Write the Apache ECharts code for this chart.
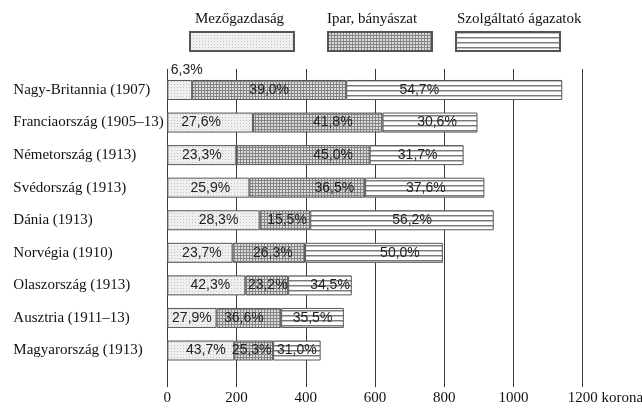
<!DOCTYPE html>
<html>
<head>
<meta charset="utf-8">
<script src="https://cdn.jsdelivr.net/npm/echarts@6/dist/echarts.min.js"></script>
<style>
html,body{margin:0;padding:0;background:#fff;}
#c{width:642px;height:408px;}
</style>
</head>
<body>
<div id="c"></div>
<script>
const categories = ['Nagy-Britannia (1907)', 'Franciaország (1905–13)', 'Németország (1913)', 'Svédország (1913)', 'Dánia (1913)', 'Norvégia (1910)', 'Olaszország (1913)', 'Ausztria (1911–13)', 'Magyarország (1913)'];
const totals = [1141, 896, 856, 916, 943, 796, 533, 510, 443];
const agriPct = [6.3, 27.6, 23.3, 25.9, 28.3, 23.7, 42.3, 27.9, 43.7];
const indPct = [39.0, 41.8, 45.0, 36.5, 15.5, 26.3, 23.2, 36.6, 25.3];
const svcPct = [54.7, 30.6, 31.7, 37.6, 56.2, 50.0, 34.5, 35.5, 31.0];
const seriesNames = ['Mezőgazdaság', 'Ipar, bányászat', 'Szolgáltató ágazatok'];
const xTickLabels = ['0', '200', '400', '600', '800', '1000', '1200'];
const xUnit = 'korona';

// label horizontal nudges (px), styling only
const agriOffset = [7, -9, 0, 2, 5, 2, 4, 0, 5];
const indOffset = [0, 15, 30, 27, 2, 4, 1, -5, -2];
const svcOffset = [-35, 7, 1, 1, 10, 26, 10, 0, 0];

function makePattern(kind) {
  const c = document.createElement('canvas');
  let ctx;
  if (kind === 'dots') {
    c.width = 3; c.height = 3; ctx = c.getContext('2d');
    ctx.fillStyle = '#efefef'; ctx.fillRect(0, 0, 3, 3);
    ctx.fillStyle = '#c4c4c4'; ctx.fillRect(0, 0, 1, 1);
  } else if (kind === 'grid') {
    c.width = 3; c.height = 3; ctx = c.getContext('2d');
    ctx.fillStyle = '#dcdcdc'; ctx.fillRect(0, 0, 3, 3);
    ctx.fillStyle = '#858585'; ctx.fillRect(0, 0, 1, 3); ctx.fillRect(0, 0, 3, 1);
  } else {
    c.width = 4; c.height = 5; ctx = c.getContext('2d');
    ctx.fillStyle = '#ffffff'; ctx.fillRect(0, 0, 4, 5);
    ctx.fillStyle = '#7a7a7a'; ctx.fillRect(0, 0, 4, 1);
    ctx.fillStyle = '#c0c0c0'; ctx.fillRect(0, 1, 4, 1);
  }
  return { image: c, repeat: 'repeat' };
}
const fills = [makePattern('dots'), makePattern('grid'), makePattern('lines')];
const pctLists = [agriPct, indPct, svcPct];
const offsets = [agriOffset, indOffset, svcOffset];

function fmt(v) { return v.toFixed(1).replace('.', ',') + '%'; }

const series = seriesNames.map((name, s) => ({
  name: name,
  type: 'bar',
  stack: 'total',
  xAxisIndex: 1,
  yAxisIndex: 1,
  barWidth: 20,
  itemStyle: { color: fills[s], borderColor: '#555', borderWidth: 1 },
  label: {
    show: true,
    position: 'inside',
    fontFamily: 'Liberation Sans',
    fontSize: 14,
    color: '#222'
  },
  data: totals.map((t, i) => {
    const item = {
      value: t * pctLists[s][i] / 100,
      label: { formatter: fmt(pctLists[s][i]), offset: [offsets[s][i], 0] }
    };
    if (s === 0 && i === 0) {
      item.label.position = 'top';
      item.label.distance = 3;
    }
    return item;
  })
}));

const legendLefts = [189, 327, 455];
const legendTextLefts = [195, 327, 457];

// width of " korona" at the tick-label font, used to keep "1200" centred on its tick
const measure = document.createElement('canvas').getContext('2d');
measure.font = '15px "Liberation Serif"';
const unitWidth = measure.measureText(' ' + xUnit).width;

const option = {
  animation: false,
  backgroundColor: '#fff',
  legend: seriesNames.map((n, i) => ({
    data: [n],
    left: legendLefts[i],
    top: 31,
    padding: 0,
    itemWidth: 104,
    itemHeight: 19,
    icon: 'rect',
    selectedMode: false,
    formatter: () => ' ',
    textStyle: { fontSize: 1 }
  })),
  graphic: seriesNames.map((n, i) => ({
    type: 'text',
    left: legendTextLefts[i],
    top: 12,
    style: { text: n, font: '15px "Liberation Serif"', fill: '#111' }
  })),
  grid: [
    { left: 167.3, right: 59.3, top: 69, bottom: 21, outerBoundsMode: 'none', containLabel: false },
    { left: 167.3, right: 59.3, top: 73.7, height: 293.1, outerBoundsMode: 'none', containLabel: false }
  ],
  xAxis: [
    {
      gridIndex: 0, type: 'value', min: 0, max: 1200, interval: 200,
      axisLine: { show: false }, axisTick: { show: false },
      splitLine: { show: true, lineStyle: { color: '#3a3a3a', width: 1 } },
      axisLabel: {
        margin: 4, fontFamily: 'Liberation Serif', fontSize: 15, color: '#111',
        showMaxLabel: true,
        formatter: (v) => {
          const idx = Math.round(v / 200);
          return idx === xTickLabels.length - 1 ? '{p|}' + xTickLabels[idx] + ' ' + xUnit : xTickLabels[idx];
        },
        rich: { p: { width: unitWidth, fontFamily: 'Liberation Serif', fontSize: 15 } }
      }
    },
    {
      gridIndex: 1, type: 'value', min: 0, max: 1200, interval: 200, show: false
    }
  ],
  yAxis: [
    { gridIndex: 0, type: 'value', show: false },
    {
      gridIndex: 1, type: 'category', inverse: true, data: categories,
      axisLine: { show: false }, axisTick: { show: false },
      axisLabel: { align: 'left', margin: 154, fontFamily: 'Liberation Serif', fontSize: 15, color: '#111' }
    }
  ],
  series: series
};

const chart = echarts.init(document.getElementById('c'), null, { renderer: 'canvas' });
chart.setOption(option);
</script>
</body>
</html>
